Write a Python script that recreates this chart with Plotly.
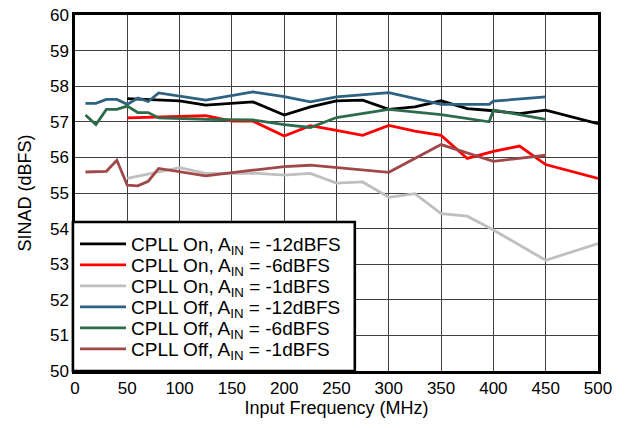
import plotly.graph_objects as go

freq_on = [50, 100, 125, 150, 170, 200, 225, 250, 275, 300, 325, 350, 375, 400, 425, 450, 500]
on_m12 = [57.65, 57.59, 57.47, 57.52, 57.56, 57.19, 57.42, 57.59, 57.61, 57.35, 57.42, 57.59, 57.37, 57.31, 57.23, 57.33, 56.95]
on_m6 = [57.11, 57.14, 57.17, 57.02, 57.02, 56.60, 56.89, 56.76, 56.62, 56.90, 56.74, 56.62, 55.97, 56.17, 56.32, 55.80, 55.41]
freq_on_m1 = [50, 100, 125, 170, 200, 225, 250, 275, 300, 325, 350, 375, 400, 450, 500]
on_m1 = [55.41, 55.71, 55.55, 55.56, 55.50, 55.55, 55.28, 55.31, 54.88, 54.98, 54.42, 54.35, 53.96, 53.11, 53.58]

freq_off = [10, 20, 30, 40, 50, 60, 70, 80, 125, 170, 200, 225, 250, 275, 300, 350, 396, 400, 450]
off_m12 = [57.52, 57.52, 57.63, 57.63, 57.49, 57.67, 57.57, 57.81, 57.61, 57.84, 57.71, 57.56, 57.70, 57.75, 57.82, 57.49, 57.49, 57.58, 57.70]
off_m6 = [57.19, 56.92, 57.35, 57.35, 57.44, 57.26, 57.26, 57.11, 57.07, 57.05, 56.92, 56.84, 57.12, 57.23, 57.35, 57.20, 57.00, 57.33, 57.07]
freq_off_m1 = [10, 20, 30, 40, 50, 60, 70, 80, 125, 170, 200, 225, 250, 275, 300, 350, 400, 450]
off_m1 = [55.59, 55.60, 55.61, 55.92, 55.22, 55.20, 55.33, 55.69, 55.48, 55.64, 55.74, 55.78, 55.71, 55.64, 55.58, 56.36, 55.89, 56.06]

x_ticks = [0, 50, 100, 150, 200, 250, 300, 350, 400, 450, 500]
y_ticks = [50, 51, 52, 53, 54, 55, 56, 57, 58, 59, 60]

series = [
    ("CPLL On, A<sub>IN</sub> = -12dBFS", freq_on, on_m12, "#000000"),
    ("CPLL On, A<sub>IN</sub> = -6dBFS", freq_on, on_m6, "#FF0000"),
    ("CPLL On, A<sub>IN</sub> = -1dBFS", freq_on_m1, on_m1, "#BFBFBF"),
    ("CPLL Off, A<sub>IN</sub> = -12dBFS", freq_off, off_m12, "#2F6280"),
    ("CPLL Off, A<sub>IN</sub> = -6dBFS", freq_off, off_m6, "#2E6B4B"),
    ("CPLL Off, A<sub>IN</sub> = -1dBFS", freq_off_m1, off_m1, "#A04848"),
]

W, H = 626, 428
ML, MR, MT, MB = 75, 28, 15, 57
plot_h = H - MT - MB

legend_ids = ["legend", "legend2", "legend3", "legend4", "legend5", "legend6"]
row_y_px = [244, 265, 286, 307, 328, 349]  # legend row centres (page px)

fig = go.Figure()
for (name, xs, ys, col), lid in zip(series, legend_ids):
    fig.add_trace(go.Scatter(x=xs, y=ys, mode="lines", name=name, legend=lid,
                             line=dict(color=col, width=2.8)))

font_family = "Liberation Sans, Arial, sans-serif"
layout_legends = {}
for lid, py in zip(legend_ids, row_y_px):
    layout_legends[lid] = dict(
        x=0.0, y=(H - MB - py) / plot_h, xanchor="left", yanchor="middle",
        bgcolor="rgba(0,0,0,0)", borderwidth=0,
        font=dict(size=19, family=font_family, color="black"),
        itemwidth=46, tracegroupgap=0)

fig.update_layout(
    width=W, height=H,
    margin=dict(l=ML, r=MR, t=MT, b=MB, autoexpand=False),
    paper_bgcolor="white", plot_bgcolor="white",
    font=dict(family=font_family, size=17, color="black"),
    showlegend=True,
    **layout_legends,
)
# legend frame (white box with black border)
fig.add_shape(type="rect", xref="paper", yref="paper",
              x0=-0.004, x1=0.535, y0=0.0, y1=(H - MB - 222) / plot_h,
              fillcolor="white", line=dict(color="black", width=2.6), layer="above")

fig.update_xaxes(range=[0, 500], tickvals=x_ticks, showgrid=True,
                 gridcolor="#404040", gridwidth=1.3, automargin=False,
                 showline=True, linecolor="black", linewidth=2.5, mirror=True,
                 ticks="", zeroline=False,
                 title=dict(text="Input Frequency (MHz)", standoff=4, font=dict(size=18)),
                 tickfont=dict(size=17))
fig.update_yaxes(range=[50, 60], tickvals=y_ticks, showgrid=True,
                 gridcolor="#404040", gridwidth=1.3, automargin=False,
                 showline=True, linecolor="black", linewidth=2.5, mirror=True,
                 ticks="", zeroline=False,
                 title=dict(text="SINAD (dBFS)", standoff=14, font=dict(size=18)),
                 tickfont=dict(size=17))

fig.write_html("out.html", config={"displayModeBar": False},
               post_script="document.body.style.margin='0px';")
